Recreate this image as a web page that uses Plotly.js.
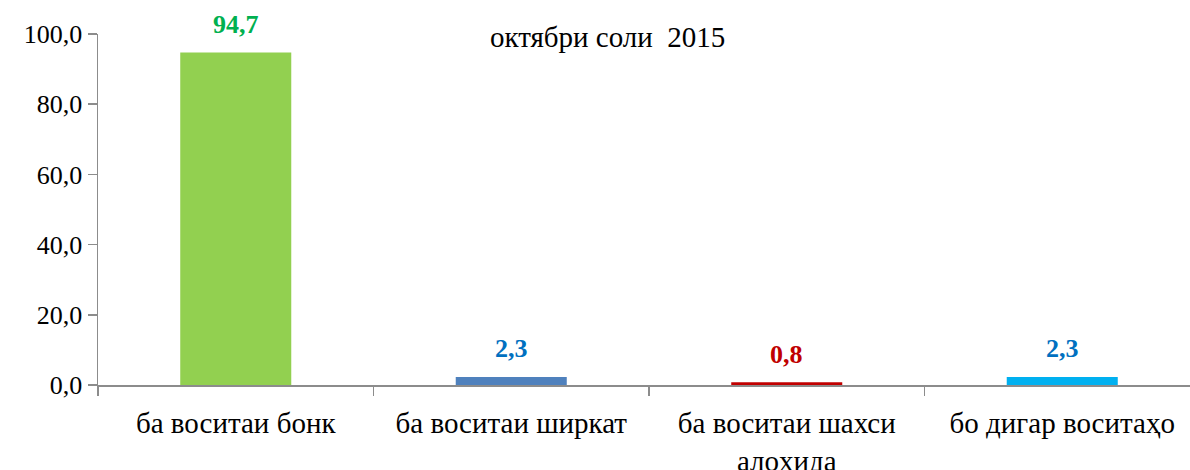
<!DOCTYPE html>
<html>
<head>
<meta charset="utf-8">
<script src="https://cdn.plot.ly/plotly-3.0.1.min.js"></script>
<style>
  html, body { margin: 0; padding: 0; overflow: hidden; background: #fff; }
  #chart { width: 1200px; height: 470px; }
</style>
</head>
<body>
<div id="chart"></div>
<script>
// categories and values (%), october 2015
const categories = ['ба воситаи бонк', 'ба воситаи ширкат', 'ба воситаи шахси<br>алоҳида', 'бо дигар воситаҳо'];
const shares = [94.7, 2.3, 0.8, 2.3];
const barColors = ['#92D050', '#4F81BD', '#C00000', '#00B0F0'];
const labelColors = ['#00B050', '#0070C0', '#C00000', '#0070C0'];
const titleText = 'октябри соли  2015';

const serif = 'Liberation Serif, DejaVu Serif, serif';

const trace = {
    type: 'bar',
    x: categories,
    y: shares,
    marker: { color: barColors },
    cliponaxis: false,
    hoverinfo: 'none'
};

// value labels sit above each bar
const valueLabels = categories.map((c, i) => ({
    x: c,
    y: shares[i],
    xref: 'x', yref: 'y',
    text: '<b>' + shares[i].toFixed(1).replace('.', ',') + '</b>',
    showarrow: false,
    yanchor: 'middle',
    yshift: 28,
    font: { family: serif, size: 26, color: labelColors[i] }
}));

const layout = {
    width: 1200,
    height: 470,
    margin: { l: 98, r: 0, t: 34, b: 85 },
    paper_bgcolor: '#fff',
    plot_bgcolor: '#fff',
    separators: ', ',
    bargap: 0.597,
    showlegend: false,
    font: { family: serif, size: 24, color: '#000' },
    xaxis: {
        type: 'category',
        tickson: 'boundaries',
        ticks: 'outside',
        ticklen: 9,
        tickcolor: '#8c8c8c',
        tickwidth: 1.5,
        showline: true,
        linecolor: '#8c8c8c',
        linewidth: 1.5,
        showgrid: false,
        ticklabelstandoff: 12,
        tickfont: { family: serif, size: 29, color: '#000' },
        fixedrange: true
    },
    yaxis: {
        range: [0, 100],
        dtick: 20,
        tickformat: '.1f',
        ticks: 'outside',
        ticklen: 9,
        tickcolor: '#8c8c8c',
        tickwidth: 1.5,
        showline: true,
        linecolor: '#8c8c8c',
        linewidth: 1.5,
        showgrid: false,
        zeroline: false,
        tickfont: { family: serif, size: 26, color: '#000' },
        fixedrange: true
    },
    annotations: valueLabels.concat([{
        text: titleText,
        xref: 'paper', yref: 'paper',
        x: 0.462, y: 0.992,
        xanchor: 'center', yanchor: 'middle',
        showarrow: false,
        font: { family: serif, size: 29, color: '#000' }
    }])
};

Plotly.newPlot('chart', [trace], layout, { displayModeBar: false, staticPlot: true });
</script>
</body>
</html>
